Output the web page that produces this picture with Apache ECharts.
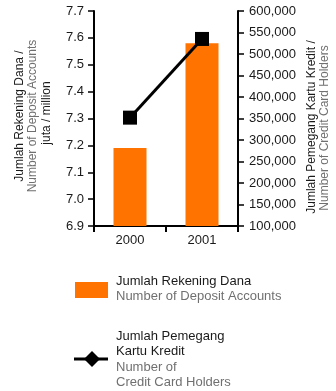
<!DOCTYPE html>
<html><head><meta charset="utf-8">
<script src="https://cdn.jsdelivr.net/npm/echarts@6/dist/echarts.min.js"></script>
<style>html,body{margin:0;padding:0;background:#fff}#c{width:336px;height:391px}</style>
</head><body><div id="c"></div>
<script>
const categories = ['2000', '2001'];
const depositAccounts = [7.19, 7.58];
const cardHolders = [352000, 535000];
const leftTicks = [6.9, 7.7, 0.1];
const rightTicks = [100000, 600000, 50000];
const leftName = ['Jumlah Rekening Dana /', 'Number of Deposit Accounts', 'juta / million'];
const rightName = ['Jumlah Pemegang Kartu Kredit /', 'Number of Credit Card Holders'];
const legend1 = ['Jumlah Rekening Dana', 'Number of Deposit Accounts'];
const legend2 = ['Jumlah Pemegang', 'Kartu Kredit', 'Number of', 'Credit Card Holders'];

const FONT = '"Liberation Sans", Arial, Helvetica, sans-serif';
const DARK = '#1a1a1a', GRAY = '#707070', ORANGE = '#ff7300';
const chart = echarts.init(document.getElementById('c'));
const axisLine = {show: true, lineStyle: {color: '#000', width: 2}};
const axisTick = {show: true, length: 6, lineStyle: {color: '#000', width: 1.5}};
function txt(x, y, t, color, rot, size) {
  return {type: 'text', x: x, y: y, rotation: rot || 0,
    style: {text: t, fill: color, font: (size || 12) + 'px ' + FONT, align: rot ? 'center' : 'left', verticalAlign: 'middle'}};
}
const R = Math.PI / 2;
chart.setOption({
  animation: false,
  grid: {left: 94, right: 98, top: 11, bottom: 165},
  xAxis: {type: 'category', data: categories,
    axisLine: {lineStyle: {color: '#000', width: 2}},
    axisTick: {show: true, length: 6, lineStyle: {color: '#000', width: 2}},
    axisLabel: {color: DARK, fontSize: 13, fontFamily: FONT, margin: 8}},
  yAxis: [
    {type: 'value', position: 'left', min: leftTicks[0], max: leftTicks[1], interval: leftTicks[2],
      axisLine: axisLine, axisTick: axisTick, splitLine: {show: false},
      axisLabel: {color: DARK, fontSize: 13, fontFamily: FONT, margin: 10, formatter: v => v.toFixed(1)}},
    {type: 'value', position: 'right', min: rightTicks[0], max: rightTicks[1], interval: rightTicks[2],
      axisLine: axisLine, axisTick: axisTick, splitLine: {show: false},
      axisLabel: {color: DARK, fontSize: 13, fontFamily: FONT, margin: 11, formatter: v => v.toLocaleString('en-US')}}
  ],
  series: [
    {type: 'bar', data: depositAccounts, yAxisIndex: 0, barWidth: 33, itemStyle: {color: ORANGE}},
    {type: 'line', data: cardHolders, yAxisIndex: 1, symbol: 'rect', symbolSize: 14,
      lineStyle: {color: '#000', width: 3}, itemStyle: {color: '#000'}}
  ],
  graphic: [
    txt(20, 116, leftName[0], DARK, R),
    txt(33, 116, leftName[1], GRAY, R),
    txt(47, 113, leftName[2], DARK, R),
    txt(312, 127, rightName[0], DARK, R),
    txt(325, 128, rightName[1], GRAY, R),
    {type: 'rect', shape: {x: 75, y: 282, width: 33, height: 16}, style: {fill: ORANGE}},
    txt(116, 281, legend1[0], DARK, 0, 13),
    txt(116, 296, legend1[1], GRAY, 0, 13),
    {type: 'line', shape: {x1: 74, y1: 359, x2: 108, y2: 359}, style: {stroke: '#000', lineWidth: 3}},
    {type: 'polygon', shape: {points: [[92, 351], [100, 359], [92, 367], [84, 359]]}, style: {fill: '#000'}},
    txt(116, 336, legend2[0], DARK, 0, 13),
    txt(116, 351, legend2[1], DARK, 0, 13),
    txt(116, 367, legend2[2], GRAY, 0, 13),
    txt(116, 382, legend2[3], GRAY, 0, 13)
  ]
});
</script></body></html>
